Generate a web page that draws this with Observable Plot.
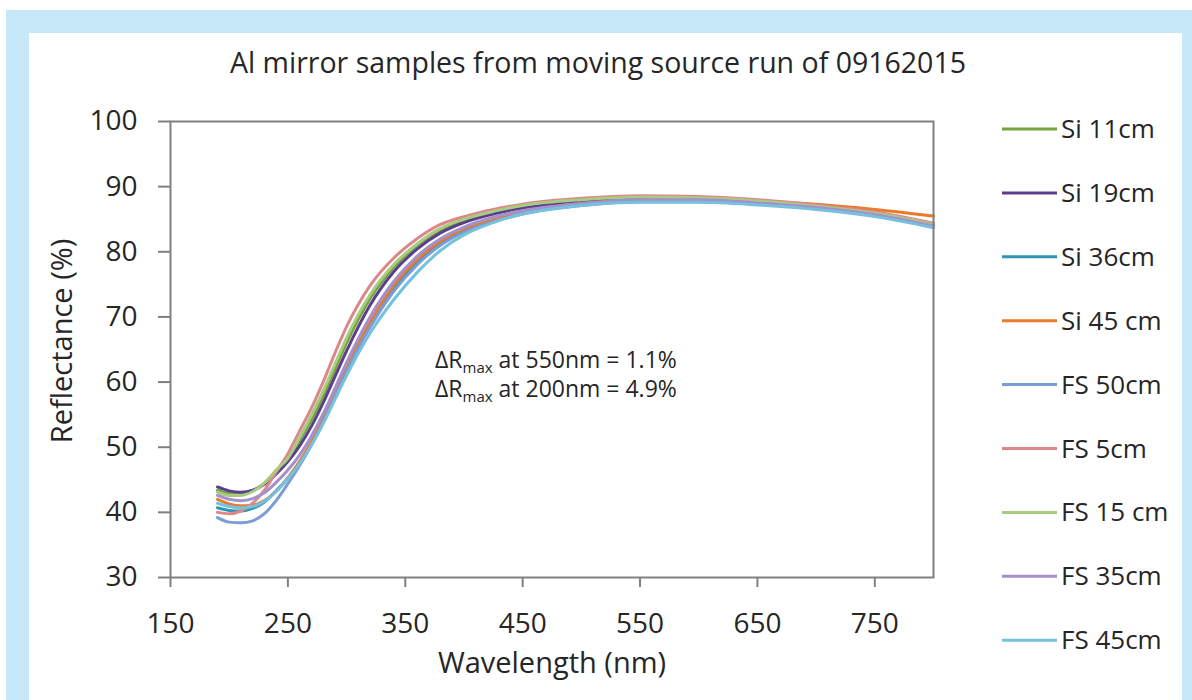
<!DOCTYPE html>
<html><head><meta charset="utf-8">
<script src="https://cdn.jsdelivr.net/npm/d3@7"></script>
<script src="https://cdn.jsdelivr.net/npm/@observablehq/plot@0.6"></script>
<style>
html,body{margin:0;padding:0;background:#fff;width:1192px;height:700px;overflow:hidden;font-family:"Open Sans",sans-serif;}
#blue{position:absolute;left:6px;top:10px;width:1186px;height:690px;background:#c6e8f8;}
#panel{position:absolute;left:29px;top:33px;width:1153px;height:667px;background:#fff;}
#chart{position:absolute;left:29px;top:33px;}
#overlay{position:absolute;left:0;top:0;}
</style></head><body>
<div id="blue"></div><div id="panel"></div>
<div id="chart"></div>
<svg id="overlay" width="1192" height="700"></svg>
<script>
const title = "Al mirror samples from moving source run of 09162015";
const xLabel = "Wavelength (nm)";
const yLabel = "Reflectance (%)";
const xTicks = [150, 250, 350, 450, 550, 650, 750];
const yTicks = [30, 40, 50, 60, 70, 80, 90, 100];
const wavelengths = [190,200,210,220,230,240,250,260,270,280,290,300,320,340,360,380,400,425,450,500,550,600,650,700,750,800];
const seriesNames = ["Si 11cm","Si 19cm","Si 36cm","Si 45 cm","FS 50cm","FS 5cm","FS 15 cm","FS 35cm","FS 45cm"];
const seriesColors = ["#77a43c","#5b3f8f","#2e95b6","#ea7a2c","#7b9dd6","#dc888b","#a7cc80","#a491cb","#74c2de"];
const si11 = [43.4,42.9,42.8,43.3,44.5,46.3,48.4,51.0,54.2,57.8,61.9,66.0,72.8,77.6,80.9,83.3,84.8,86.0,86.9,87.8,88.3,88.2,87.7,87.0,85.9,84.2];
const si19 = [43.9,43.3,43.1,43.4,44.3,45.9,47.8,50.2,53.2,56.8,60.8,64.8,71.8,76.9,80.4,82.9,84.5,85.8,86.7,87.7,88.2,88.1,87.7,86.9,85.8,84.1];
const si36 = [40.7,40.3,40.2,40.6,41.6,43.3,45.3,47.7,50.6,54.0,57.9,61.9,68.8,74.3,78.4,81.3,83.3,84.8,85.9,87.2,87.8,87.8,87.4,86.7,85.6,83.9];
const si45 = [42.0,41.3,41.0,41.1,41.8,43.2,45.3,47.8,50.8,54.3,58.2,62.2,69.2,74.8,78.8,81.6,83.5,85.0,86.1,87.4,88.0,88.1,87.8,87.3,86.5,85.5];
const fs50 = [39.2,38.5,38.4,38.7,39.8,41.8,44.4,47.2,50.3,53.8,57.7,61.6,68.4,73.9,78.0,81.0,83.0,84.6,85.8,87.1,87.7,87.7,87.3,86.6,85.5,83.8];
const fs5  = [40.0,39.8,40.2,41.4,43.4,46.2,49.0,52.5,56.0,60.0,64.4,68.5,74.8,79.0,82.0,84.2,85.4,86.5,87.3,88.2,88.6,88.5,88.0,87.2,86.1,84.4];
const fs15 = [43.1,42.6,42.6,43.2,44.5,46.5,48.3,51.5,54.9,58.6,62.7,66.8,73.4,78.0,81.2,83.6,85.0,86.2,87.1,88.0,88.4,88.3,87.8,87.0,85.9,84.2];
const fs35 = [42.6,42.0,41.8,42.1,43.0,44.6,46.5,48.8,51.7,55.1,59.0,63.0,70.0,75.4,79.3,82.0,83.8,85.3,86.3,87.4,88.0,88.0,87.5,86.8,85.7,84.0];
const fs45 = [41.4,40.9,40.7,40.9,41.7,43.2,45.2,47.5,50.3,53.6,57.3,61.0,67.5,72.6,76.8,80.2,82.6,84.5,85.8,87.1,87.6,87.6,87.2,86.5,85.4,83.7];
const seriesValues = [si11, si19, si36, si45, fs50, fs5, fs15, fs35, fs45];

const rows = seriesNames.flatMap((name, i) =>
  wavelengths.map((w, j) => ({name, w, r: seriesValues[i][j]})));

const chart = Plot.plot({
  width: 1153, height: 667,
  marginLeft: 141, marginRight: 249, marginTop: 88, marginBottom: 123,
  x: {domain: [150, 800]},
  y: {domain: [30, 100]},
  color: {domain: seriesNames, range: seriesColors},
  style: {fontFamily: "Open Sans", fontSize: "28px", color: "#262626", background: "#fff"},
  marks: [
    Plot.line(rows, {x: "w", y: "r", z: "name", stroke: "name", strokeWidth: 3, curve: "monotone-x"}),
    Plot.frame({stroke: "#808080", strokeWidth: 2}),
    Plot.axisX({ticks: xTicks, tickSize: 10, tickPadding: 26, label: null, stroke: "#808080", strokeWidth: 2, fill: "#262626"}),
    Plot.axisY({ticks: yTicks, tickSize: 12, tickPadding: 21, label: null, stroke: "#808080", strokeWidth: 2, fill: "#262626"})
  ]
});
document.getElementById("chart").appendChild(chart);

const ov = d3.select("#overlay").style("font-family", "'Open Sans', sans-serif").attr("fill", "#262626");
ov.append("text").attr("x", 598).attr("y", 73).attr("text-anchor", "middle").attr("font-size", 28.5).text(title);
ov.append("text").attr("x", 552).attr("y", 673).attr("text-anchor", "middle").attr("font-size", 29).text(xLabel);
ov.append("text").attr("transform", "translate(72,341) rotate(-90)").attr("text-anchor", "middle").attr("font-size", 29).text(yLabel);

const notes = [["550nm", "1.1%"], ["200nm", "4.9%"]];
notes.forEach(([at, v], i) => {
  const t = ov.append("text").attr("x", 435).attr("y", 368 + i * 29).attr("font-size", 23);
  t.append("tspan").text("ΔR");
  t.append("tspan").attr("font-size", 15).attr("dy", 5).text("max");
  t.append("tspan").attr("dy", -5).text(` at ${at} = ${v}`);
});

const lg = ov.append("g");
seriesNames.forEach((name, i) => {
  const cy = 129 + i * 63.9;
  lg.append("line").attr("x1", 1002).attr("x2", 1057).attr("y1", cy).attr("y2", cy)
    .attr("stroke", seriesColors[i]).attr("stroke-width", 3);
  lg.append("text").attr("x", 1061).attr("y", cy + 9).attr("font-size", 26).text(name);
});
</script></body></html>
